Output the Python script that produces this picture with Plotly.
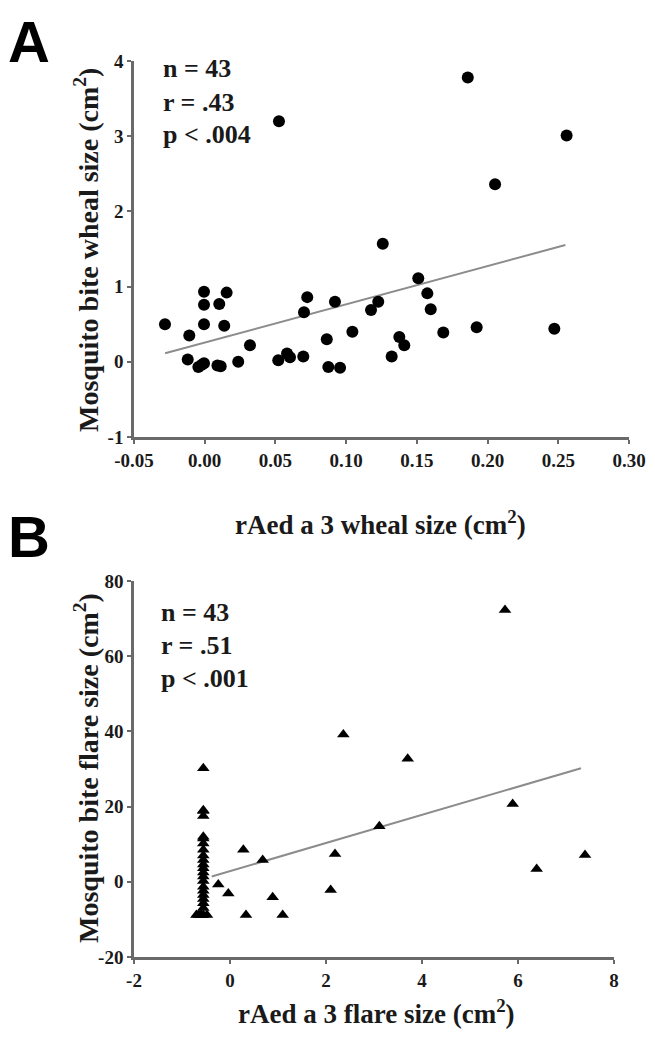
import plotly.graph_objects as go

# ---------------- Panel A data: wheal size ----------------
wheal_x = [-0.0281, -0.0109, -0.0005, 0.0155, -0.0005, 0.0103, -0.0005, 0.0138,
           -0.0120, -0.0045, -0.0005, 0.0113, 0.0237, 0.0320, 0.0520, 0.0582,
           0.0603, 0.0697, 0.0874, 0.0957, 0.0725, 0.0702, 0.0921, 0.1227,
           0.1176, 0.1510, 0.1574, 0.1598, 0.0863, 0.1044, 0.1376, 0.1411,
           0.1322, 0.1687, 0.1923, 0.2472, 0.1259, 0.1860, 0.2559, 0.2053,
           0.0525, -0.0020, 0.0090]
wheal_y = [0.50, 0.35, 0.93, 0.92, 0.76, 0.77, 0.50, 0.48,
           0.03, -0.07, -0.02, -0.06, 0.00, 0.22, 0.02, 0.11,
           0.06, 0.07, -0.07, -0.08, 0.86, 0.66, 0.80, 0.80,
           0.69, 1.11, 0.91, 0.70, 0.30, 0.40, 0.33, 0.22,
           0.07, 0.39, 0.46, 0.44, 1.57, 3.78, 3.01, 2.36,
           3.20, -0.04, -0.05]
wheal_fit_x = [-0.028, 0.255]
wheal_fit_y = [0.113, 1.553]

# ---------------- Panel B data: flare size ----------------
flare_x = [5.729, 2.361, 3.702, 5.889, 3.111, 2.188, 2.097, 6.389, 7.396,
           0.278, 0.681, -0.244, -0.035, 0.889, 0.333, 1.097,
           -0.556, -0.556, -0.556, -0.556, -0.556, -0.556, -0.556, -0.556,
           -0.556, -0.556, -0.556, -0.70, -0.60, -0.48,
           -0.556, -0.556, -0.556, -0.556, -0.556, -0.556, -0.556, -0.556,
           -0.556, -0.65, -0.556, -0.556, -0.60]
flare_y = [72.3, 39.2, 32.7, 20.7, 14.8, 7.4, -2.2, 3.4, 7.1,
           8.5, 5.8, -0.7, -3.1, -4.1, -8.8, -8.8,
           30.2, 19.0, 17.5, 12.0, 8.5, 5.8, 3.6, 1.4,
           -1.3, -3.5, -5.7, -8.8, -8.8, -8.8,
           10.2, 7.0, 4.6, 2.5, 0.2, -2.4, -4.6, -7.0,
           -8.8, -8.8, 18.8, 11.5, -8.8]
flare_fit_x = [-0.381, 7.313]
flare_fit_y = [1.4, 30.2]

# ---------------- Text ----------------
stats_a = ["n = 43", "r = .43", "p < .004"]
stats_b = ["n = 43", "r = .51", "p < .001"]
xtitle_a = "rAed a 3 wheal size (cm<sup>2</sup>)"
ytitle_a = "Mosquito bite wheal size (cm<sup>2</sup>)"
xtitle_b = "rAed a 3 flare size (cm<sup>2</sup>)"
ytitle_b = "Mosquito bite flare size (cm<sup>2</sup>)"
xticks_a = [-0.05, 0.00, 0.05, 0.10, 0.15, 0.20, 0.25, 0.30]
xticklabels_a = ["-0.05", "0.00", "0.05", "0.10", "0.15", "0.20", "0.25", "0.30"]
yticks_a = [-1, 0, 1, 2, 3, 4]
yticklabels_a = ["-1", "0", "1", "2", "3", "4"]
xticks_b = [-2, 0, 2, 4, 6, 8]
xticklabels_b = ["-2", "0", "2", "4", "6", "8"]
yticks_b = [-20, 0, 20, 40, 60, 80]
yticklabels_b = ["-20", "0", "20", "40", "60", "80"]

W, H = 655, 1050
OFF = 8  # default page body margin
SERIF = "Liberation Serif, Times New Roman, serif"
AXC = "#6a6a6a"
TXT = "#1a1a1a"

fig = go.Figure()

fig.add_trace(go.Scatter(x=wheal_fit_x, y=wheal_fit_y, mode="lines",
                         line=dict(color="#8c8c8c", width=2),
                         xaxis="x", yaxis="y", showlegend=False, hoverinfo="skip"))
fig.add_trace(go.Scatter(x=wheal_x, y=wheal_y, mode="markers",
                         marker=dict(symbol="circle", size=12, color="black"),
                         xaxis="x", yaxis="y", showlegend=False))
fig.add_trace(go.Scatter(x=flare_fit_x, y=flare_fit_y, mode="lines",
                         line=dict(color="#8c8c8c", width=2),
                         xaxis="x2", yaxis="y2", showlegend=False, hoverinfo="skip"))
fig.add_trace(go.Scatter(x=flare_x, y=flare_y, mode="markers",
                         marker=dict(symbol="triangle-up", size=11, color="black"),
                         xaxis="x2", yaxis="y2", showlegend=False))

def px_x(p):
    return (p - OFF) / W

def px_y(p):
    return 1 - (p - OFF) / H

axis_common = dict(showline=True, linecolor=AXC, linewidth=2.5, ticks="outside",
                   ticklen=4, tickwidth=2, tickcolor=AXC, showgrid=False,
                   zeroline=False, fixedrange=True, automargin=False,
                   tickfont=dict(family=SERIF, size=19, color=TXT, weight="bold"))

fig.update_layout(
    width=W, height=H, margin=dict(l=0, r=0, t=0, b=0, autoexpand=False),
    paper_bgcolor="white", plot_bgcolor="white",
    xaxis=dict(domain=[px_x(134), px_x(629)], range=[-0.05, 0.30], anchor="y",
               tickvals=xticks_a, ticktext=xticklabels_a, **axis_common),
    yaxis=dict(domain=[px_y(437), px_y(61)], range=[-1, 4], anchor="x",
               tickvals=yticks_a, ticktext=yticklabels_a, **axis_common),
    xaxis2=dict(domain=[px_x(134), px_x(614)], range=[-2, 8], anchor="y2",
                tickvals=xticks_b, ticktext=xticklabels_b, **axis_common),
    yaxis2=dict(domain=[px_y(957), px_y(581)], range=[-20, 80], anchor="x2",
                tickvals=yticks_b, ticktext=yticklabels_b, **axis_common),
)

annots = []
def txt(x, y, s, size, angle=0, xanchor="center", family=SERIF, weight="bold", color=TXT):
    annots.append(dict(x=px_x(x), y=px_y(y), xref="paper", yref="paper", text=s,
                       showarrow=False, textangle=angle, xanchor=xanchor, yanchor="middle",
                       font=dict(family=family, size=size, color=color, weight=weight)))

# panel letters
txt(6, 41, "A", 58, xanchor="left", family="Liberation Sans, Arial, sans-serif", color="black")
txt(6, 536, "B", 58, xanchor="left", family="Liberation Sans, Arial, sans-serif", color="black")

# stats
for i, s in enumerate(stats_a):
    txt(161, 69 + i * 33, s, 26, xanchor="left")
for i, s in enumerate(stats_b):
    txt(159, 612 + i * 33, s, 26, xanchor="left")

# axis titles
txt(380, 523, xtitle_a, 27)
txt(86, 250, ytitle_a, 28, angle=-90)
txt(376, 1012, xtitle_b, 27)
txt(86, 768, ytitle_b, 28, angle=-90)

fig.update_layout(annotations=annots)

fig.write_html("out.html")
